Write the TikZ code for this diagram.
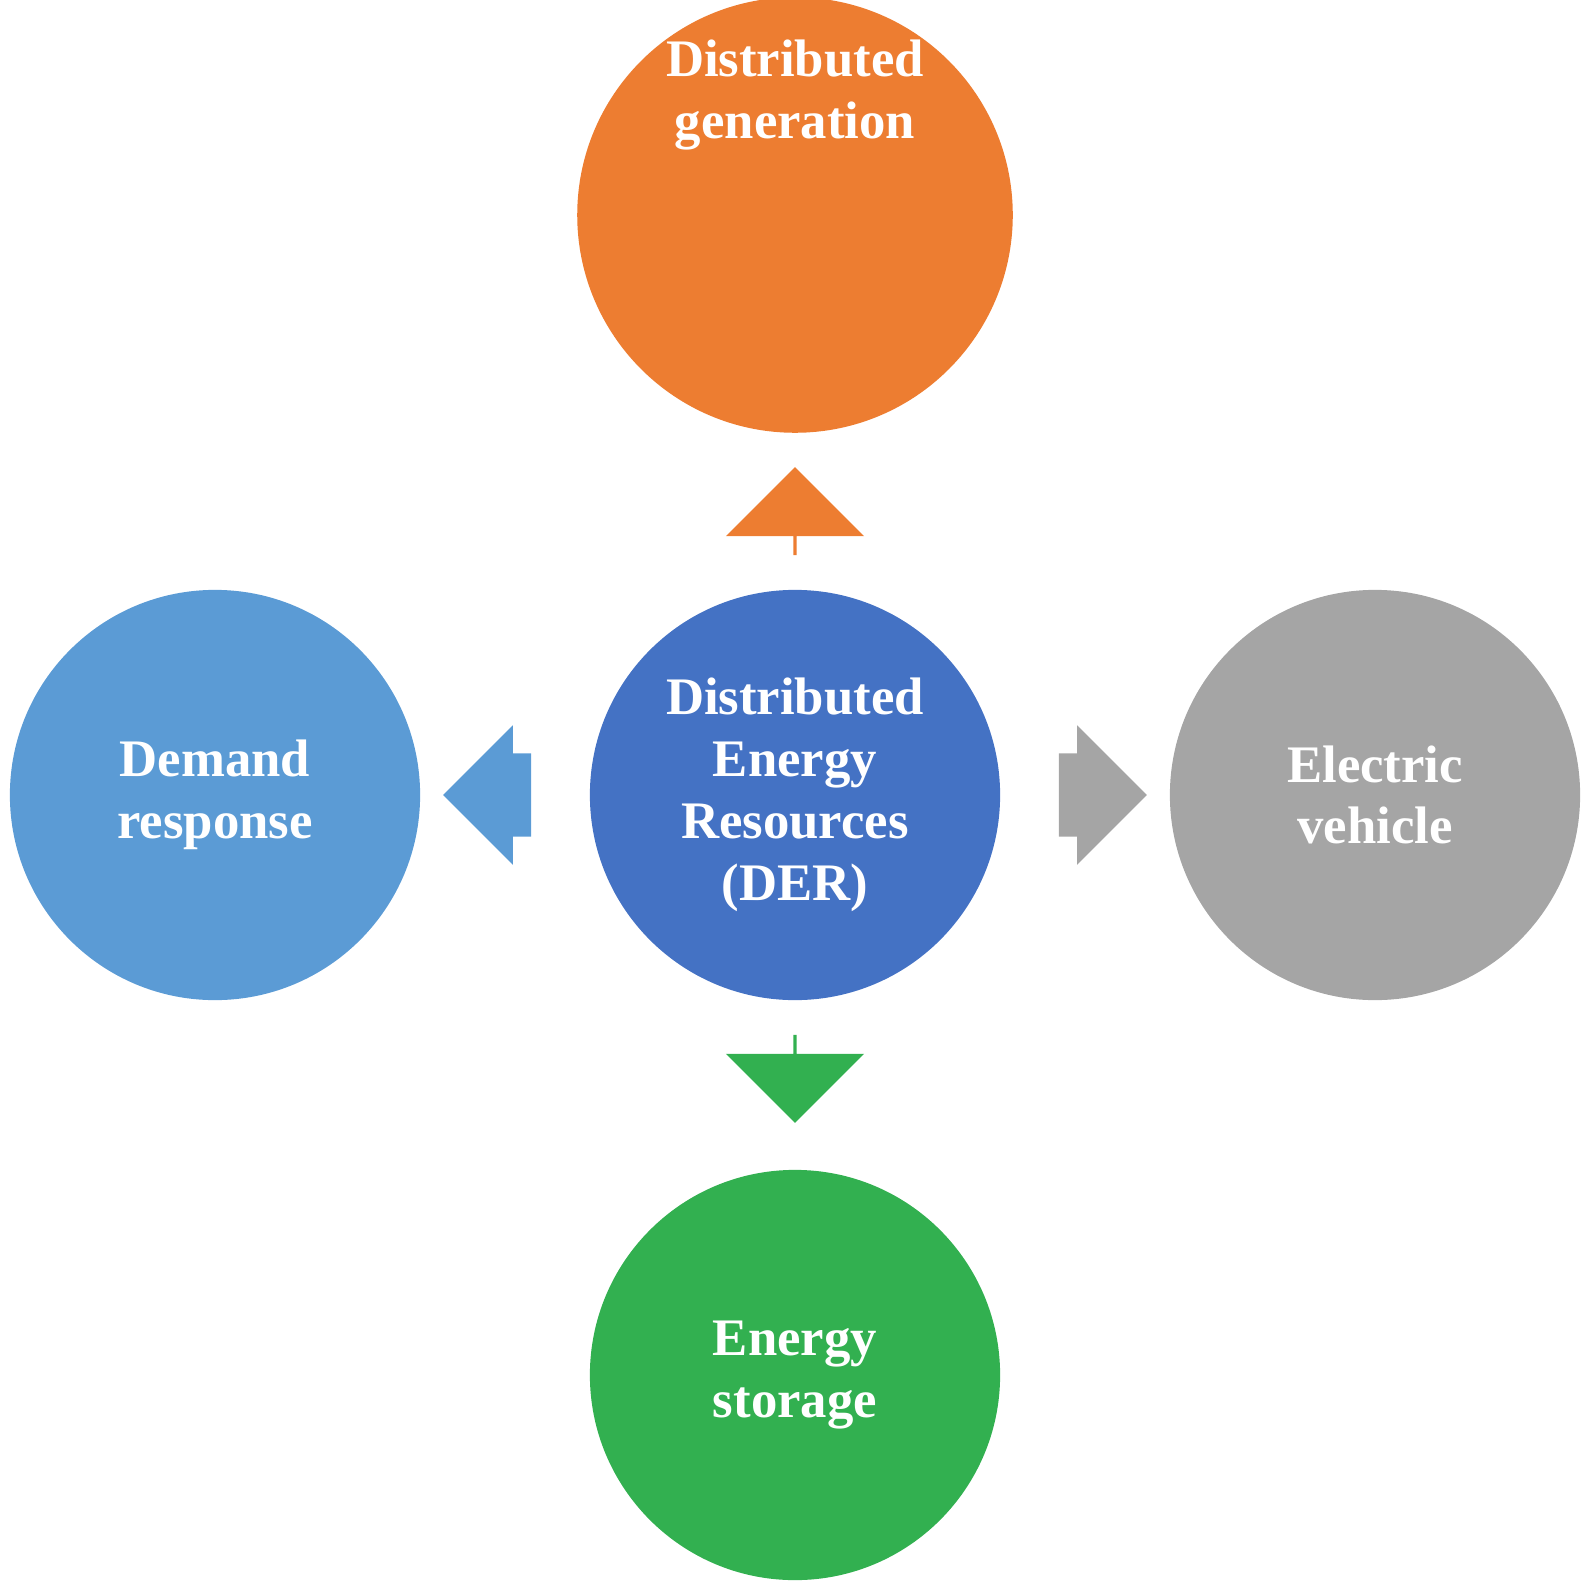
\documentclass[tikz,border=0pt]{standalone}
\usepackage{fontspec}
\setmainfont{TeX Gyre Heros}
\setmainfont{Liberation Serif}
\usetikzlibrary{shapes.arrows,positioning}
\definecolor{myorange}{RGB}{237,125,49}
\definecolor{myblue}{RGB}{68,114,196}
\definecolor{mylightblue}{RGB}{91,155,213}
\definecolor{mygray}{RGB}{165,165,165}
\definecolor{mygreen}{RGB}{50,176,80}
\begin{document}
\begin{tikzpicture}[
  x=0.01cm, y=-0.01cm,
  mycircle/.style={
    circle,
    minimum size=4.1cm,
    inner sep=0pt,
    text=white,
    align=center,
    font=\fontsize{15}{17.6}\selectfont\bfseries
    },
  myarrow/.style={
    single arrow,
    draw=none,
    minimum height=0.88cm,
    minimum width=1.38cm,
    single arrow head extend=0.28cm,
    inner sep=0pt,
    text height=0.82cm
    }
]
\useasboundingbox (0,0) rectangle (1591,1591);
\node [mycircle, fill=myblue] (der) at (795,795) {Distributed\\Energy\\Resources\\(DER)};
\node [mycircle, fill=myorange] (dg) at (795,215) {Distributed\\generation\\[1.9cm]};
\node [mycircle, fill=mylightblue] (dr) at (215,795) {Demand\\response};
\node [mycircle, fill=mygray] (ev) at (1375,795) {Electric\\vehicle};
\node [mycircle, fill=mygreen] (es) at (795,1375) {Energy\\storage};
\node [myarrow, fill=myorange, shape border rotate=90] (up) at (795,512) {};
\node [myarrow, fill=mylightblue, shape border rotate=180] (left) at (508,795) {};
\node [myarrow, fill=mygray, shape border rotate=0] (right) at (1082,795) {};
\node [myarrow, fill=mygreen, shape border rotate=270] (down) at (795,1078) {};
\end{tikzpicture}
\end{document}
